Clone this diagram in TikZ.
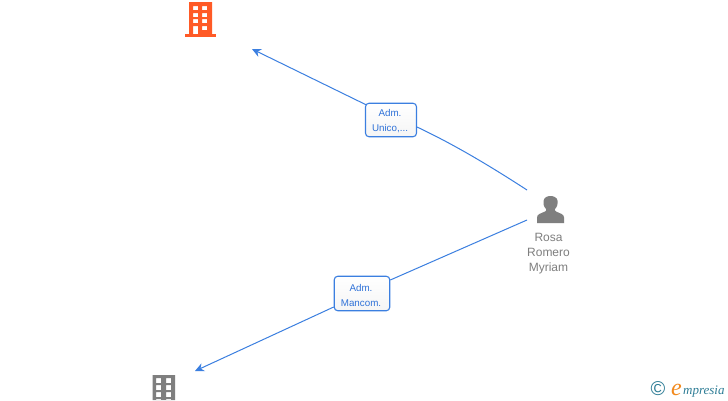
\documentclass[tikz,border=0pt]{standalone}
\usepackage{fontspec}
\setmainfont{Liberation Sans}
\newfontfamily\logofont{Liberation Serif}
\definecolor{linkblue}{HTML}{3B7FE0}
\definecolor{labelblue}{HTML}{2F72D8}
\definecolor{iconorange}{HTML}{FF5A26}
\definecolor{icongrey}{HTML}{7F7F7F}
\definecolor{logoteal}{HTML}{2E7D96}
\definecolor{logoorange}{HTML}{F28A1E}
\usetikzlibrary{arrows.meta}
\tikzset{
  linkline/.style={draw=linkblue,line width=1pt},
  linkarrow/.style={linkline,-{Stealth[length=9pt,width=8.5pt]}},
  rolebox/.style={draw=linkblue,line width=1.1pt,rounded corners=3.5pt,top color=white,bottom color=black!4,inner sep=0pt},
  roletext/.style={text=labelblue,font=\fontsize{9.8}{15}\selectfont,align=center,inner sep=0pt},
  personname/.style={text=icongrey,font=\fontsize{12}{15}\selectfont,align=center,inner sep=0pt},
  logotext/.style={inner sep=0pt,anchor=base west}
}
\begin{document}
\begin{tikzpicture}[x=1pt,y=-1pt]
\useasboundingbox[fill=white] (0,0) rectangle (728,400);
% orange building
\fill[iconorange,even odd rule] (189,2) rectangle (212,34)
  (193,6) rectangle (198,10) (202,6) rectangle (207,10)
  (193,13) rectangle (198,17) (202,13) rectangle (207,17)
  (193,19) rectangle (198,23) (202,19) rectangle (207,23)
  (193,26) rectangle (198,34) (202,26) rectangle (207,30);
\fill[iconorange] (184.5,33.5) rectangle (216,36.5);
\coordinate (orangeend) at (252,49);
% grey building
\fill[icongrey,even odd rule] (152.5,375) rectangle (175,400)
  (156,378) rectangle (161,383) (166,378) rectangle (171,383)
  (156,385) rectangle (161,390) (166,385) rectangle (171,390)
  (156,392) rectangle (161,397) (166,392) rectangle (171,397)
  (156,399) rectangle (161,400) (166,399) rectangle (171,400);
\coordinate (greyend) at (195,371);
% person
\fill[icongrey] (537,223) -- (537,217.5) .. controls (537,214) and (541,213.5) .. (545,211.5)
  .. controls (546,211) and (546.5,210) .. (546,209) .. controls (543.5,206.5) and (543,203) .. (543.5,201)
  .. controls (544,197.5) and (547,196) .. (550.5,196) .. controls (554,196) and (557,197.5) .. (557.7,201)
  .. controls (558,203) and (557.5,206.5) .. (555,209) .. controls (554.5,210) and (555,211) .. (556,211.5)
  .. controls (560,213.5) and (564,214) .. (564,217.5) -- (564,223) -- cycle;
\node[personname] (person) at (548.5,254) {Rosa\\Romero\\Myriam};
\coordinate (persontop) at (527,190);
\coordinate (personlow) at (527,220);
% role boxes
\node[rolebox,minimum width=51pt,minimum height=33.5pt] (roleA) at (391,120) {};
\node[roletext] (roleAtext) at (390,121) {Adm.\\Unico,...};
\node[rolebox,minimum width=55.5pt,minimum height=34.5pt] (roleB) at (362,293.5) {};
\node[roletext] (roleBtext) at (361,295) {Adm.\\Mancom.};
% connectors
\draw[linkarrow] (roleA.north west) ++(1,2) -- (orangeend);
\draw[linkline] (persontop) .. controls (490,166) and (455,145) .. (roleA.east |- 0,127);
\draw[linkline] (personlow) -- (roleB.east |- 0,280);
\draw[linkarrow] (roleB.west |- 0,307) -- (greyend);
% logo
\node[inner sep=0pt,text=logoteal,font=\fontsize{20}{20}\selectfont] (copyr) at (658,389) {©};
\node[logotext,text=logoorange,font=\logofont\itshape\fontsize{24}{24}\selectfont] (logoe) at (671,395) {e};
\node[logotext,text=logoteal,font=\logofont\itshape\fontsize{13}{14}\selectfont] (logow) at (683,394) {mpresia};
\end{tikzpicture}
\end{document}
